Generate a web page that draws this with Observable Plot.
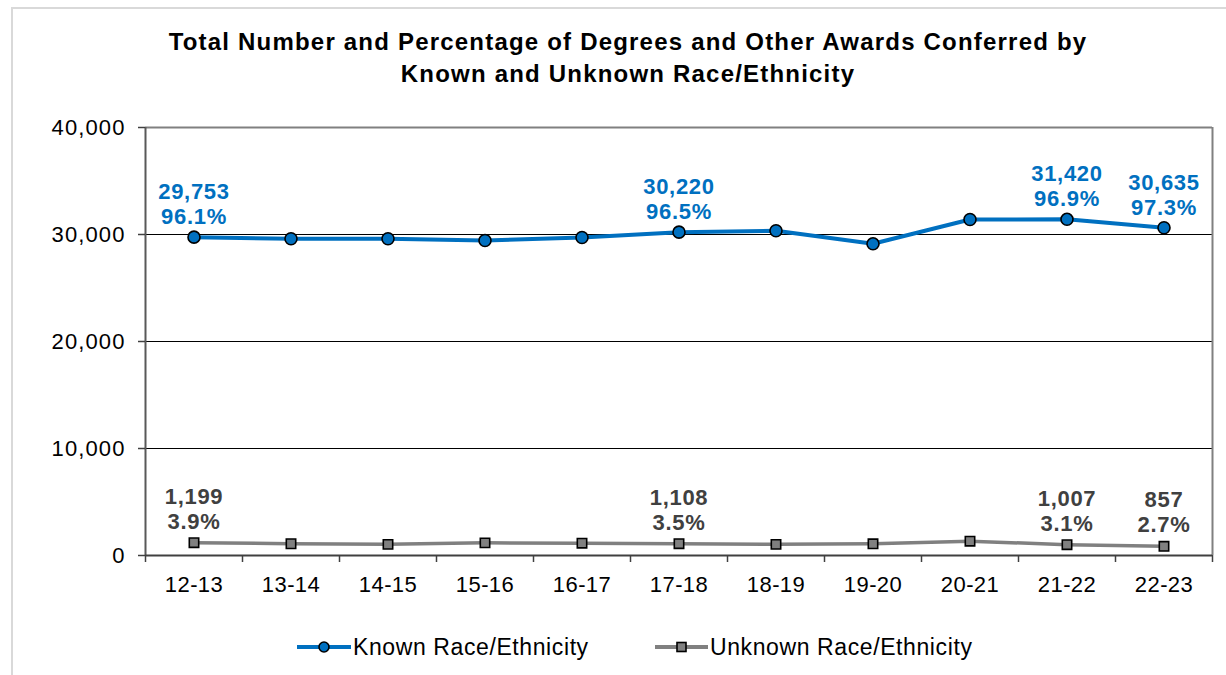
<!DOCTYPE html>
<html>
<head>
<meta charset="utf-8">
<script src="https://cdn.jsdelivr.net/npm/d3@7"></script>
<script src="https://cdn.jsdelivr.net/npm/@observablehq/plot@0.6"></script>
<style>
  html, body { margin: 0; padding: 0; background: #fff; }
  body { width: 1226px; height: 675px; position: relative; overflow: hidden; font-family: "Liberation Sans", Arial, sans-serif; }
  #border { position: absolute; left: 11px; top: 7px; width: 1300px; height: 800px; border: 2px solid #d9d9d9; }
  #title { position: absolute; left: 28px; top: 26px; width: 1200px; text-align: center; font-weight: bold; font-size: 24px; letter-spacing: 1.2px; line-height: 32px; color: #000; }
  #chart { position: absolute; left: 0; top: 0; }
  #legend { position: absolute; left: 0; top: 630px; width: 1226px; height: 34px; font-size: 23px; letter-spacing: 0.6px; color: #000; }
  .item { position: absolute; top: 0; display: flex; align-items: center; height: 34px; }
  .item svg { display: block; }
</style>
</head>
<body>
<div id="border"></div>
<div id="chart"></div>
<div id="title">Total Number and Percentage of Degrees and Other Awards Conferred by<br>Known and Unknown Race/Ethnicity</div>
<div id="legend"></div>
<script>
const categories = ["12-13","13-14","14-15","15-16","16-17","17-18","18-19","19-20","20-21","21-22","22-23"];
const knownValues = [29753, 29600, 29600, 29440, 29720, 30220, 30350, 29130, 31400, 31420, 30635];
const unknownValues = [1199, 1100, 1040, 1180, 1150, 1108, 1040, 1090, 1340, 1007, 857];
const knownPct = [96.1, null, null, null, null, 96.5, null, null, null, 96.9, 97.3];
const unknownPct = [3.9, null, null, null, null, 3.5, null, null, null, 3.1, 2.7];
const yTicks = [0, 10000, 20000, 30000, 40000];
const seriesNames = ["Known Race/Ethnicity", "Unknown Race/Ethnicity"];

const blue = "#0070C0";
const gray = "#808080";
const labelGray = "#404040";
const fmt = d3.format(",");

const rows = categories.map((c, i) => ({i, cat: c, known: knownValues[i], unknown: unknownValues[i], kp: knownPct[i], up: unknownPct[i]}));
const n = categories.length;
const boundaries = d3.range(n + 1).map(i => i - 0.5);

const W = 1226, H = 620;
const chart = Plot.plot({
  width: W,
  height: H,
  marginLeft: 145,
  marginRight: 14,
  marginTop: 127,
  marginBottom: H - 555,
  style: {fontFamily: "'Liberation Sans', Arial, sans-serif", fontSize: "22px", color: "#000", background: "transparent"},
  x: {type: "linear", domain: [-0.5, n - 0.5]},
  y: {type: "linear", domain: [0, 40000]},
  marks: [
    Plot.ruleY(yTicks.filter(t => t > 0 && t < 40000), {stroke: "#000", strokeWidth: 1}),
    Plot.ruleY([40000], {stroke: gray, strokeWidth: 2}),
    Plot.ruleX([n - 0.5], {stroke: gray, strokeWidth: 2}),
    Plot.ruleX([-0.5], {stroke: "#595959", strokeWidth: 2}),
    Plot.ruleY([0], {stroke: "#404040", strokeWidth: 2}),
    Plot.axisY({ticks: yTicks, tickFormat: fmt, tickSize: 7, tickPadding: 13, fontSize: 22, stroke: "#404040", strokeWidth: 1.5, label: null}),
    Plot.axisX({ticks: boundaries, tickFormat: () => "", tickSize: 7, stroke: "#404040", strokeWidth: 1.5, label: null}),
    Plot.axisX({ticks: d3.range(n), tickFormat: i => categories[i], tickSize: 0, tickPadding: 21, fontSize: 22, label: null}),
    Plot.line(rows, {x: "i", y: "unknown", stroke: gray, strokeWidth: 3.5}),
    Plot.line(rows, {x: "i", y: "known", stroke: blue, strokeWidth: 4}),
    Plot.dot(rows, {x: "i", y: "unknown", symbol: "square", r: 5.3, fill: gray, stroke: "#000", strokeWidth: 1.6}),
    Plot.dot(rows, {x: "i", y: "known", symbol: "circle", r: 6, fill: blue, stroke: "#000", strokeWidth: 1.6}),
    Plot.text(rows.filter(d => d.kp != null), {x: "i", y: "known", text: d => fmt(d.known) + "\n" + d.kp.toFixed(1) + "%", lineAnchor: "bottom", dy: -13, fill: blue, fontWeight: "bold", fontSize: 22, lineHeight: 25 / 22}),
    Plot.text(rows.filter(d => d.up != null), {x: "i", y: "unknown", text: d => fmt(d.unknown) + "\n" + d.up.toFixed(1) + "%", lineAnchor: "bottom", dy: -14, fill: labelGray, fontWeight: "bold", fontSize: 22, lineHeight: 25 / 22})
  ]
});
d3.select(chart).selectAll('g[aria-label="y-axis tick label"] text').style("letter-spacing", "1.1px");
d3.select(chart).selectAll('g[aria-label="x-axis tick label"] text').style("letter-spacing", "0.4px");
d3.select(chart).selectAll('g[aria-label="text"] text').style("letter-spacing", "0.7px");
document.getElementById("chart").appendChild(chart);

// Legend
const legend = document.getElementById("legend");
const items = [
  {name: seriesNames[0], color: blue, shape: "circle", left: 297, lineW: 54},
  {name: seriesNames[1], color: gray, shape: "square", left: 655, lineW: 53}
];
for (const it of items) {
  const div = document.createElement("div");
  div.className = "item";
  div.style.left = it.left + "px";
  const ns = "http://www.w3.org/2000/svg";
  const s = document.createElementNS(ns, "svg");
  s.setAttribute("width", it.lineW);
  s.setAttribute("height", 20);
  const ln = document.createElementNS(ns, "line");
  ln.setAttribute("x1", 0); ln.setAttribute("x2", it.lineW);
  ln.setAttribute("y1", 10); ln.setAttribute("y2", 10);
  ln.setAttribute("stroke", it.color); ln.setAttribute("stroke-width", 4);
  s.appendChild(ln);
  if (it.shape === "circle") {
    const c = document.createElementNS(ns, "circle");
    c.setAttribute("cx", it.lineW / 2); c.setAttribute("cy", 10); c.setAttribute("r", 5);
    c.setAttribute("fill", it.color); c.setAttribute("stroke", "#000"); c.setAttribute("stroke-width", 1.6);
    s.appendChild(c);
  } else {
    const r = document.createElementNS(ns, "rect");
    r.setAttribute("x", it.lineW / 2 - 4.5); r.setAttribute("y", 5.5); r.setAttribute("width", 9); r.setAttribute("height", 9);
    r.setAttribute("fill", it.color); r.setAttribute("stroke", "#000"); r.setAttribute("stroke-width", 1.6);
    s.appendChild(r);
  }
  div.appendChild(s);
  const t = document.createElement("span");
  t.textContent = it.name;
  t.style.marginLeft = "2px";
  div.appendChild(t);
  legend.appendChild(div);
}
</script>
</body>
</html>
